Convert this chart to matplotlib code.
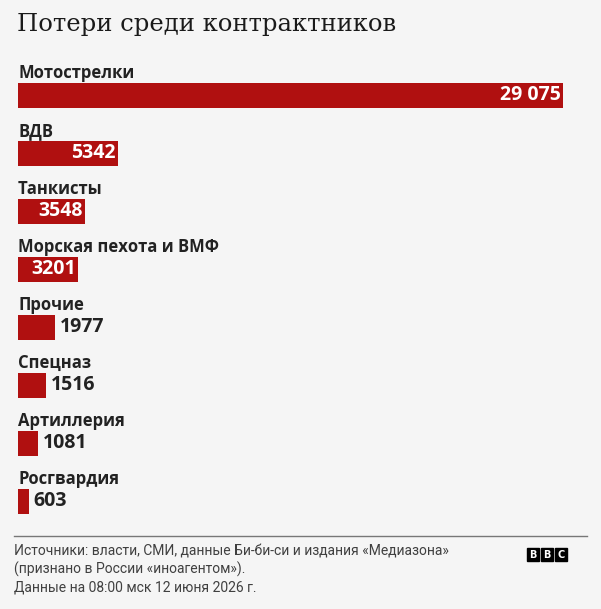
import matplotlib.pyplot as plt
from matplotlib.patches import Rectangle

# data
categories = ['Мотострелки', 'ВДВ', 'Танкисты', 'Морская пехота и ВМФ',
              'Прочие', 'Спецназ', 'Артиллерия', 'Росгвардия']
losses = [29075, 5342, 3548, 3201, 1977, 1516, 1081, 603]
value_labels = ['29 075', '5342', '3548', '3201', '1977', '1516', '1081', '603']

title = 'Потери среди контрактников'
source = ('Источники: власти, СМИ, данные Би-би-си и издания «Медиазона»\n'
          '(признано в России «иноагентом»).\n'
          'Данные на 08:00 мск 12 июня 2026 г.')

W, H = 601, 609
bg = '#f5f5f5'
red = '#b01010'
dark = '#222222'
sans = 'Open Sans'

fig = plt.figure(figsize=(W / 100, H / 100), dpi=100, facecolor=bg)

fig.text(17 / W, 1 - 25 / H, title, fontsize=17.5, family='DejaVu Serif',
         color='#1a1a1a', va='center', ha='left')

# bar axes: x 0..max maps to pixel 18..563, rows of 58 px from y=66
ax = fig.add_axes([18 / W, 1 - 530 / H, 545 / W, 464 / H])
ax.set_facecolor(bg)
ax.set_xlim(0, max(losses))
ax.set_ylim(len(categories), 0)
ax.axis('off')

ypos = [i + 0.5 for i in range(len(categories))]
ax.barh(ypos, losses, height=25 / 58, color=red, left=0)

for i, (cat, v, lab) in enumerate(zip(categories, losses, value_labels)):
    ax.text(0, i + 0.12, cat, fontsize=12, fontweight='bold', family=sans,
            color=dark, va='center', ha='left')
    if v > 3000:
        ax.text(v - max(losses) * 0.004, i + 0.5, lab, fontsize=14, fontweight='bold',
                family=sans, color='white', va='center', ha='right')
    else:
        ax.text(v + max(losses) * 0.008, i + 0.5, lab, fontsize=14, fontweight='bold',
                family=sans, color=dark, va='center', ha='left')

# footer rule
fig.add_artist(plt.Line2D([14 / W, 587 / W], [1 - 536 / H, 1 - 536 / H],
                          color='#777777', lw=1))
fig.text(14 / W, 1 - 545 / H, source, fontsize=10, family='Roboto',
         color='#404040', va='top', ha='left', linespacing=1.25)

# BBC blocks
for k, letter in enumerate('BBC'):
    x0 = 527 + k * 14
    fig.add_artist(Rectangle((x0 / W, 1 - 561 / H), 12 / W, 13 / H,
                             transform=fig.transFigure, color='black'))
    fig.text((x0 + 6) / W, 1 - 554.5 / H, letter, fontsize=7, fontweight='bold',
             family='DejaVu Sans', color='white', ha='center', va='center')

fig.savefig('out.png', dpi=100, facecolor=bg)
